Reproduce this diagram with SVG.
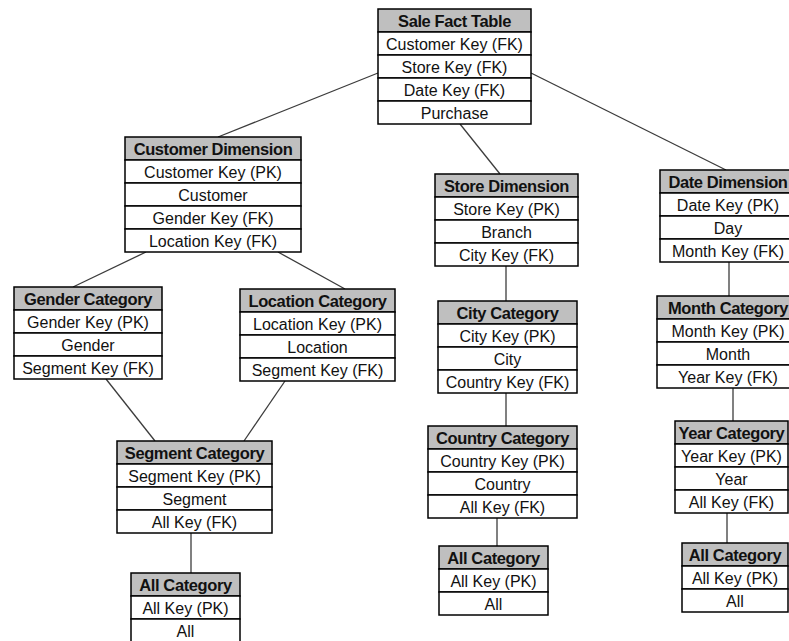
<svg xmlns="http://www.w3.org/2000/svg" width="789" height="641" viewBox="0 0 789 641">
  <style>
    .hd { fill: #bfbfbf; stroke: #000; stroke-width: 1.5; }
    .row { fill: #fff; stroke: #000; stroke-width: 1.5; }
    .ht { font-family: "Liberation Sans", Arial, sans-serif; font-size: 16.5px; font-weight: bold; fill: #111; text-anchor: middle; letter-spacing: -0.4px; }
    .rt { font-family: "Liberation Sans", Arial, sans-serif; font-size: 16px; fill: #111; text-anchor: middle; }
    .link { stroke: #3c3c3c; stroke-width: 1.3; fill: none; }
  </style>
  <rect width="789" height="641" fill="#fff"/>

  <!-- relationships between tables -->
  <g id="connectors">
    <line class="link" x1="378" y1="73" x2="218" y2="137"/>
    <line class="link" x1="460" y1="124" x2="500" y2="174"/>
    <line class="link" x1="531" y1="73" x2="726" y2="170"/>
    <line class="link" x1="146" y1="252" x2="73" y2="287"/>
    <line class="link" x1="278" y1="252" x2="345" y2="289"/>
    <line class="link" x1="106" y1="379" x2="155" y2="441"/>
    <line class="link" x1="285" y1="381" x2="244" y2="441"/>
    <line class="link" x1="191" y1="533" x2="191" y2="573"/>
    <line class="link" x1="506" y1="266" x2="506" y2="301"/>
    <line class="link" x1="506" y1="393" x2="506" y2="426"/>
    <line class="link" x1="497" y1="518" x2="497" y2="546"/>
    <line class="link" x1="729" y1="262" x2="729" y2="296"/>
    <line class="link" x1="733" y1="388" x2="733" y2="421"/>
    <line class="link" x1="727" y1="513" x2="727" y2="543"/>
  </g>

  <!-- fact table -->
  <g id="sale-fact" transform="translate(378,9)">
    <rect class="hd" width="153" height="23"/>
    <rect class="row" y="23" width="153" height="23"/>
    <rect class="row" y="46" width="153" height="23"/>
    <rect class="row" y="69" width="153" height="23"/>
    <rect class="row" y="92" width="153" height="23"/>
    <text class="ht" x="76.5" y="17.5">Sale Fact Table</text>
    <text class="rt" x="76.5" y="40.5">Customer Key (FK)</text>
    <text class="rt" x="76.5" y="63.5">Store Key (FK)</text>
    <text class="rt" x="76.5" y="86.5">Date Key (FK)</text>
    <text class="rt" x="76.5" y="109.5">Purchase</text>
  </g>

  <!-- customer branch -->
  <g id="customer-dim" transform="translate(125,137)">
    <rect class="hd" width="176" height="23"/>
    <rect class="row" y="23" width="176" height="23"/>
    <rect class="row" y="46" width="176" height="23"/>
    <rect class="row" y="69" width="176" height="23"/>
    <rect class="row" y="92" width="176" height="23"/>
    <text class="ht" x="88" y="17.5">Customer Dimension</text>
    <text class="rt" x="88" y="40.5">Customer Key (PK)</text>
    <text class="rt" x="88" y="63.5">Customer</text>
    <text class="rt" x="88" y="86.5">Gender Key (FK)</text>
    <text class="rt" x="88" y="109.5">Location Key (FK)</text>
  </g>

  <g id="gender-cat" transform="translate(14,287)">
    <rect class="hd" width="148" height="23"/>
    <rect class="row" y="23" width="148" height="23"/>
    <rect class="row" y="46" width="148" height="23"/>
    <rect class="row" y="69" width="148" height="23"/>
    <text class="ht" x="74" y="17.5">Gender Category</text>
    <text class="rt" x="74" y="40.5">Gender Key (PK)</text>
    <text class="rt" x="74" y="63.5">Gender</text>
    <text class="rt" x="74" y="86.5">Segment Key (FK)</text>
  </g>

  <g id="location-cat" transform="translate(240,289)">
    <rect class="hd" width="155" height="23"/>
    <rect class="row" y="23" width="155" height="23"/>
    <rect class="row" y="46" width="155" height="23"/>
    <rect class="row" y="69" width="155" height="23"/>
    <text class="ht" x="77.5" y="17.5">Location Category</text>
    <text class="rt" x="77.5" y="40.5">Location Key (PK)</text>
    <text class="rt" x="77.5" y="63.5">Location</text>
    <text class="rt" x="77.5" y="86.5">Segment Key (FK)</text>
  </g>

  <g id="segment-cat" transform="translate(117,441)">
    <rect class="hd" width="155" height="23"/>
    <rect class="row" y="23" width="155" height="23"/>
    <rect class="row" y="46" width="155" height="23"/>
    <rect class="row" y="69" width="155" height="23"/>
    <text class="ht" x="77.5" y="17.5">Segment Category</text>
    <text class="rt" x="77.5" y="40.5">Segment Key (PK)</text>
    <text class="rt" x="77.5" y="63.5">Segment</text>
    <text class="rt" x="77.5" y="86.5">All Key (FK)</text>
  </g>

  <g id="all-cat-customer" transform="translate(131,573)">
    <rect class="hd" width="109" height="23"/>
    <rect class="row" y="23" width="109" height="23"/>
    <rect class="row" y="46" width="109" height="23"/>
    <text class="ht" x="54.5" y="17.5">All Category</text>
    <text class="rt" x="54.5" y="40.5">All Key (PK)</text>
    <text class="rt" x="54.5" y="63.5">All</text>
  </g>

  <!-- store branch -->
  <g id="store-dim" transform="translate(435,174)">
    <rect class="hd" width="143" height="23"/>
    <rect class="row" y="23" width="143" height="23"/>
    <rect class="row" y="46" width="143" height="23"/>
    <rect class="row" y="69" width="143" height="23"/>
    <text class="ht" x="71.5" y="17.5">Store Dimension</text>
    <text class="rt" x="71.5" y="40.5">Store Key (PK)</text>
    <text class="rt" x="71.5" y="63.5">Branch</text>
    <text class="rt" x="71.5" y="86.5">City Key (FK)</text>
  </g>

  <g id="city-cat" transform="translate(438,301)">
    <rect class="hd" width="139" height="23"/>
    <rect class="row" y="23" width="139" height="23"/>
    <rect class="row" y="46" width="139" height="23"/>
    <rect class="row" y="69" width="139" height="23"/>
    <text class="ht" x="69.5" y="17.5">City Category</text>
    <text class="rt" x="69.5" y="40.5">City Key (PK)</text>
    <text class="rt" x="69.5" y="63.5">City</text>
    <text class="rt" x="69.5" y="86.5">Country Key (FK)</text>
  </g>

  <g id="country-cat" transform="translate(428,426)">
    <rect class="hd" width="149" height="23"/>
    <rect class="row" y="23" width="149" height="23"/>
    <rect class="row" y="46" width="149" height="23"/>
    <rect class="row" y="69" width="149" height="23"/>
    <text class="ht" x="74.5" y="17.5">Country Category</text>
    <text class="rt" x="74.5" y="40.5">Country Key (PK)</text>
    <text class="rt" x="74.5" y="63.5">Country</text>
    <text class="rt" x="74.5" y="86.5">All Key (FK)</text>
  </g>

  <g id="all-cat-store" transform="translate(439,546)">
    <rect class="hd" width="109" height="23"/>
    <rect class="row" y="23" width="109" height="23"/>
    <rect class="row" y="46" width="109" height="23"/>
    <text class="ht" x="54.5" y="17.5">All Category</text>
    <text class="rt" x="54.5" y="40.5">All Key (PK)</text>
    <text class="rt" x="54.5" y="63.5">All</text>
  </g>

  <!-- date branch -->
  <g id="date-dim" transform="translate(660,170)">
    <rect class="hd" width="136" height="23"/>
    <rect class="row" y="23" width="136" height="23"/>
    <rect class="row" y="46" width="136" height="23"/>
    <rect class="row" y="69" width="136" height="23"/>
    <text class="ht" x="68" y="17.5">Date Dimension</text>
    <text class="rt" x="68" y="40.5">Date Key (PK)</text>
    <text class="rt" x="68" y="63.5">Day</text>
    <text class="rt" x="68" y="86.5">Month Key (FK)</text>
  </g>

  <g id="month-cat" transform="translate(657,296)">
    <rect class="hd" width="142" height="23"/>
    <rect class="row" y="23" width="142" height="23"/>
    <rect class="row" y="46" width="142" height="23"/>
    <rect class="row" y="69" width="142" height="23"/>
    <text class="ht" x="71" y="17.5">Month Category</text>
    <text class="rt" x="71" y="40.5">Month Key (PK)</text>
    <text class="rt" x="71" y="63.5">Month</text>
    <text class="rt" x="71" y="86.5">Year Key (FK)</text>
  </g>

  <g id="year-cat" transform="translate(675,421)">
    <rect class="hd" width="113" height="23"/>
    <rect class="row" y="23" width="113" height="23"/>
    <rect class="row" y="46" width="113" height="23"/>
    <rect class="row" y="69" width="113" height="23"/>
    <text class="ht" x="56.5" y="17.5">Year Category</text>
    <text class="rt" x="56.5" y="40.5">Year Key (PK)</text>
    <text class="rt" x="56.5" y="63.5">Year</text>
    <text class="rt" x="56.5" y="86.5">All Key (FK)</text>
  </g>

  <g id="all-cat-date" transform="translate(682,543)">
    <rect class="hd" width="106" height="23"/>
    <rect class="row" y="23" width="106" height="23"/>
    <rect class="row" y="46" width="106" height="23"/>
    <text class="ht" x="53" y="17.5">All Category</text>
    <text class="rt" x="53" y="40.5">All Key (PK)</text>
    <text class="rt" x="53" y="63.5">All</text>
  </g>
</svg>
